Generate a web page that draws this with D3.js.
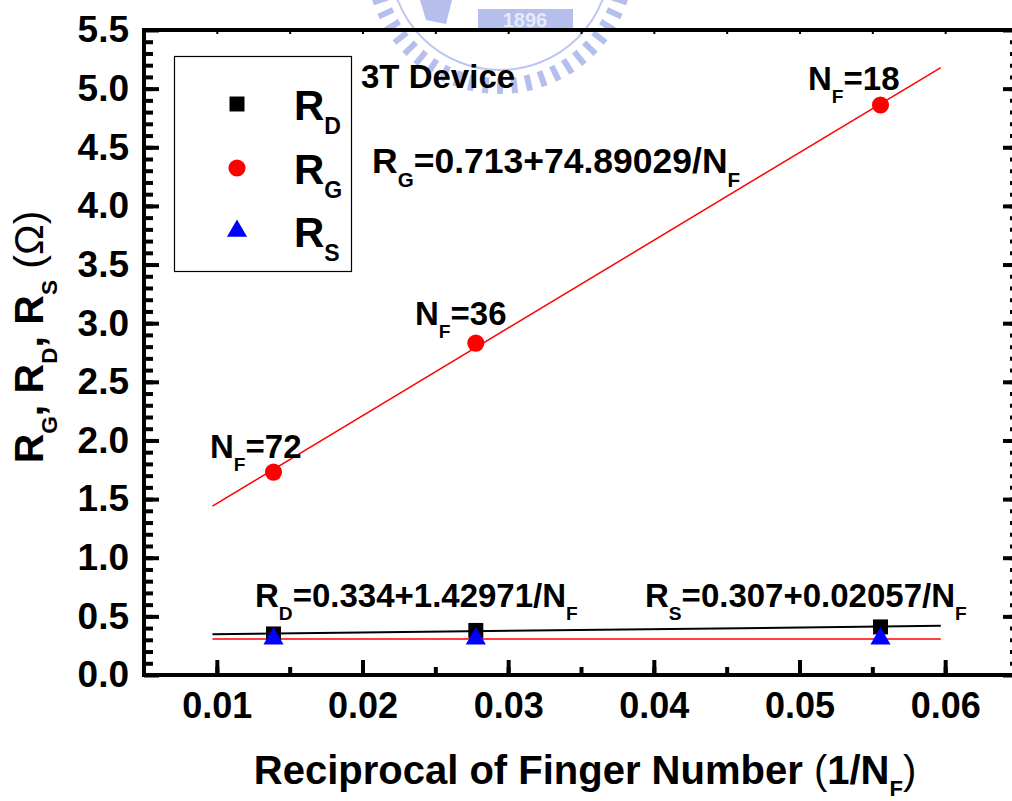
<!DOCTYPE html>
<html>
<head>
<meta charset="utf-8">
<script src="https://d3js.org/d3.v7.min.js"></script>
<style>
  html, body { margin: 0; padding: 0; background: #fff; }
  svg { display: block; font-family: "Liberation Sans", Arial, sans-serif; font-weight: bold; }
</style>
</head>
<body>
<div id="chart"></div>
<script>
// Finger number and its reciprocal (x)
const fingerNumbers = [72, 36, 18];
const invFinger = [0.01389, 0.02778, 0.05556];

// Measured resistances (ohm)
const rG = [1.73, 2.83, 4.86];
const rD = [0.35, 0.38, 0.41];
const rS = [0.31, 0.31, 0.31];

// Linear fits, drawn between two end points
const fitX = [0.0097, 0.0597];
const fitG = [1.44, 5.18];
const fitD = [0.348, 0.419];
const fitS = [0.307, 0.308];

// Tick labels
const xTicks = [0.01, 0.02, 0.03, 0.04, 0.05, 0.06];
const yTicks = [0, 0.5, 1, 1.5, 2, 2.5, 3, 3.5, 4, 4.5, 5, 5.5];

const W = 1012, H = 801;
const margin = { top: 30, right: -6, bottom: 126, left: 144 };
const iw = W - margin.left - margin.right;
const ih = H - margin.top - margin.bottom;

const svg = d3.select('#chart').append('svg')
  .attr('width', W)
  .attr('height', H);

// faint watermark (university logo) behind the plot
const wm = svg.append('g').attr('opacity', 0.75);
const wmC = [500, -40];
d3.range(12, 170, 6.5).forEach(a => {
  wm.append('rect')
    .attr('x', -3).attr('y', 118).attr('width', 6).attr('height', 16)
    .attr('fill', '#9eaae6')
    .attr('transform', `translate(${wmC[0]},${wmC[1]}) rotate(${a - 90})`);
});
wm.append('circle')
  .attr('cx', wmC[0]).attr('cy', wmC[1]).attr('r', 110)
  .attr('fill', 'none').attr('stroke', '#aab4ea').attr('stroke-width', 2);
wm.append('rect')
  .attr('x', 478).attr('y', 9).attr('width', 95).attr('height', 20)
  .attr('fill', '#9eaae6');
wm.append('text')
  .attr('x', 525).attr('y', 27).attr('text-anchor', 'middle')
  .attr('font-size', 20).attr('fill', '#dfe4f7')
  .text('1896');
wm.append('path')
  .attr('d', 'M420,0 L452,0 L446,24 L426,20 Z')
  .attr('fill', '#9eaae6');

const g = svg.append('g')
  .attr('transform', `translate(${margin.left},${margin.top})`);

const x = d3.scaleLinear().domain([0.005, 0.065]).range([0, iw]);
const y = d3.scaleLinear().domain([0, 5.5]).range([ih, 0]);

const minorX = d3.range(1, 13).map(i => 0.005 + i * 0.005);
const minorY = d3.range(1, 55).map(i => i * 0.1);

function styleAxis(sel, w) {
  sel.select('.domain').remove();
  sel.selectAll('.tick line').attr('stroke', '#000').attr('stroke-width', w);
}

// minor ticks
g.append('g').attr('transform', `translate(0,${ih})`)
  .call(d3.axisBottom(x).tickValues(minorX).tickSize(-8).tickFormat(''))
  .call(s => styleAxis(s, 4));
g.append('g')
  .call(d3.axisLeft(y).tickValues(minorY).tickSize(-9).tickFormat(''))
  .call(s => styleAxis(s, 4));
g.append('g').attr('transform', `translate(${iw},0)`)
  .call(d3.axisRight(y).tickValues(minorY).tickSize(-8).tickFormat(''))
  .call(s => styleAxis(s, 4));
g.append('g')
  .call(d3.axisTop(x).tickValues(minorX).tickSize(-4).tickFormat(''))
  .call(s => styleAxis(s, 2));

// major ticks with labels
const xAxis = g.append('g').attr('transform', `translate(0,${ih})`)
  .call(d3.axisBottom(x).tickValues(xTicks).tickSize(-15).tickPadding(17)
    .tickFormat(d3.format('.2f')))
  .call(s => styleAxis(s, 4));
xAxis.selectAll('text').attr('font-size', 36).attr('fill', '#000')
  .attr('font-family', '"Liberation Sans", Arial, sans-serif').attr('font-weight', 'bold');

const yAxis = g.append('g')
  .call(d3.axisLeft(y).tickValues(yTicks).tickSize(-15).tickPadding(15)
    .tickFormat(d3.format('.1f')))
  .call(s => styleAxis(s, 4));
yAxis.selectAll('text').attr('font-size', 37).attr('fill', '#000')
  .attr('font-family', '"Liberation Sans", Arial, sans-serif').attr('font-weight', 'bold');

g.append('g').attr('transform', `translate(${iw},0)`)
  .call(d3.axisRight(y).tickValues(yTicks).tickSize(-15).tickFormat(''))
  .call(s => styleAxis(s, 4));

// frame
g.append('rect')
  .attr('width', iw).attr('height', ih)
  .attr('fill', 'none').attr('stroke', '#000').attr('stroke-width', 4);

// fit lines
const line = d3.line().x(d => x(d[0])).y(d => y(d[1]));
const fits = [
  { v: fitS, color: '#ff0000', w: 1.5 },
  { v: fitD, color: '#000000', w: 2 },
  { v: fitG, color: '#ff0000', w: 1.5 }
];
fits.forEach(f => {
  g.append('path')
    .datum(fitX.map((xv, i) => [xv, f.v[i]]))
    .attr('d', line)
    .attr('fill', 'none')
    .attr('stroke', f.color)
    .attr('stroke-width', f.w);
});

// data markers
const series = [
  { v: rD, type: d3.symbolSquare, size: 225, color: '#000000' },
  { v: rG, type: d3.symbolCircle, size: 230, color: '#ff0000' },
  { v: rS, type: d3.symbolTriangle, size: 175, color: '#0000ff' }
];
series.forEach(s => {
  g.selectAll(null)
    .data(invFinger.map((xv, i) => [xv, s.v[i]]))
    .enter()
    .append('path')
    .attr('d', d3.symbol().type(s.type).size(s.size))
    .attr('transform', d => `translate(${x(d[0])},${y(d[1])})`)
    .attr('fill', s.color);
});

// text with subscripts: parts = [[text, isSub, weight], ...]
function richText(parent, px, py, parts, size, subScale = 0.58, subDrop = 0.4) {
  const t = parent.append('text')
    .attr('x', px).attr('y', py)
    .attr('font-size', size)
    .attr('fill', '#000');
  let down = false;
  parts.forEach(([s, sub, weight]) => {
    const ts = t.append('tspan').text(s);
    if (sub && !down) { ts.attr('dy', size * subDrop); down = true; }
    else if (!sub && down) { ts.attr('dy', -size * subDrop); down = false; }
    if (sub) ts.attr('font-size', size * subScale);
    if (weight) ts.attr('font-weight', weight);
  });
  return t;
}

// annotations
richText(svg, 361, 88, [['3T Device']], 33);
const nfLabels = [[210, 458], [415, 325], [808, 90]];
fingerNumbers.forEach((n, i) => {
  richText(svg, nfLabels[i][0], nfLabels[i][1], [['N'], ['F', true], ['=' + n]], 33);
});
richText(svg, 372, 173, [['R'], ['G', true], ['=0.713+74.89029/N'], ['F', true]], 35.5);
richText(svg, 255, 607, [['R'], ['D', true], ['=0.334+1.42971/N'], ['F', true]], 33);
richText(svg, 645, 607, [['R'], ['S', true], ['=0.307+0.02057/N'], ['F', true]], 33);

// legend
svg.append('rect')
  .attr('x', 174.5).attr('y', 56.5).attr('width', 177).attr('height', 215)
  .attr('fill', 'none').attr('stroke', '#000').attr('stroke-width', 1.2);
const legendNames = ['D', 'G', 'S'];
const legendY = [104, 168, 231];
series.forEach((s, i) => {
  svg.append('path')
    .attr('d', d3.symbol().type(s.type).size(s.size))
    .attr('transform', `translate(237,${legendY[i]})`)
    .attr('fill', s.color);
  richText(svg, 294, legendY[i] + 16, [['R'], [legendNames[i], true]], 42, 0.55, 0.33);
});

// axis titles
const xt = richText(svg, 0, 0,
  [['Reciprocal of Finger Number '], ['(', false, 'normal'], ['1/N'], ['F', true], [')', false, 'normal']],
  40, 0.55, 0.3);
xt.attr('text-anchor', 'middle')
  .attr('transform', 'translate(585,784)');

const yt = richText(svg, 0, 0,
  [['R'], ['G', true], [', R'], ['D', true], [', R'], ['S', true], [' '], ['(\u03A9)', false, 'normal']],
  41, 0.55, 0.33);
yt.attr('text-anchor', 'middle')
  .attr('transform', 'translate(43,337) rotate(-90)');
</script>
</body>
</html>
